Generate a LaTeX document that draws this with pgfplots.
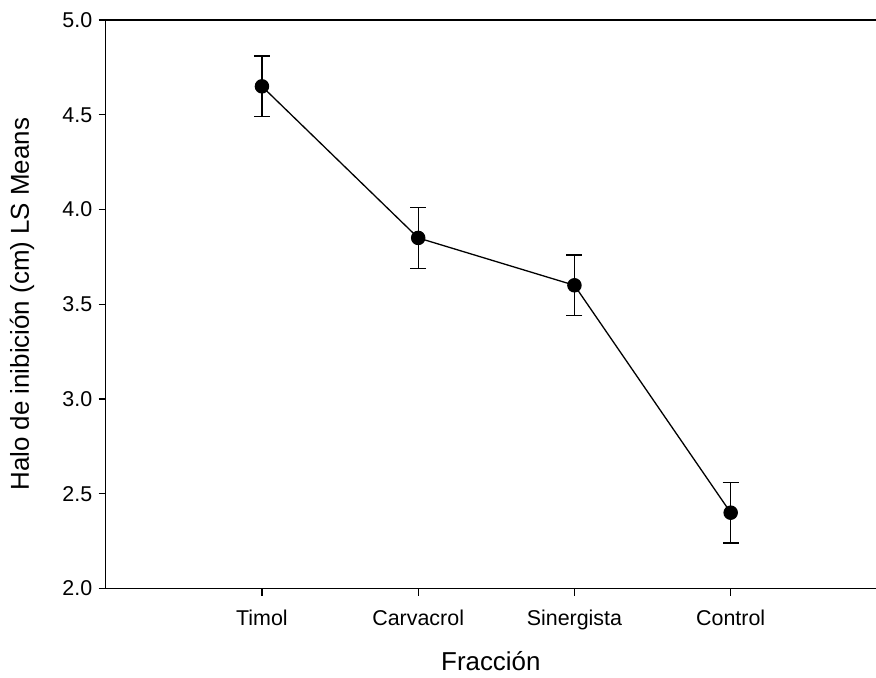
\documentclass[border=0pt]{standalone}
\usepackage{pgfplots}
\pgfplotsset{compat=1.18}
\usepackage{fontspec}
\setmainfont{Liberation Sans}
\begin{document}
\begin{tikzpicture}
\useasboundingbox (0,0) rectangle (876bp,678bp);
\begin{axis}[
  at={(105.7bp,89.5bp)}, anchor=south west,
  scale only axis, width=770.3bp, height=568.5bp,
  xmin=-1, xmax=3.93, ymin=2, ymax=5,
  axis x line*=bottom, axis y line*=left,
  axis line style={line width=1.4bp, -},
  every tick/.style={black, line width=1.2bp},
  tick align=outside, major tick length=7bp,
  xtick={0,1,2,3},
  xticklabels={Timol,Carvacrol,Sinergista,Control},
  ytick={2,2.5,3,3.5,4,4.5,5},
  /pgf/number format/assume math mode=true,
  yticklabel style={/pgf/number format/.cd, fixed, fixed zerofill, precision=1, /tikz/.cd, xshift=-3bp},
  xticklabel style={yshift=-11bp},
  tick label style={font=\fontsize{21.5}{25}\selectfont},
  xlabel={Fracción}, ylabel={Halo de inibición (cm) LS Means},
  label style={font=\fontsize{26}{30}\selectfont},
  xlabel style={at={(axis description cs:0.5,-0.1275)}, anchor=center},
  ylabel style={at={(axis description cs:-0.1087,0.5)}, anchor=center},
  clip=false,
]
\addplot[black, line width=1.3bp, mark=*, mark size=6.6bp,
  error bars/.cd, y dir=both, y explicit,
  error bar style={line width=1.3bp, black},
  error mark options={rotate=90, mark size=8bp, line width=1.3bp, black}]
  coordinates {
  (0,4.65) +- (0,0.16)
  (1,3.85) +- (0,0.16)
  (2,3.60) +- (0,0.16)
  (3,2.40) +- (0,0.16)
  };
\draw[line width=1.4bp] (rel axis cs:0,1) -- (rel axis cs:1,1);
\end{axis}
\end{tikzpicture}
\end{document}
